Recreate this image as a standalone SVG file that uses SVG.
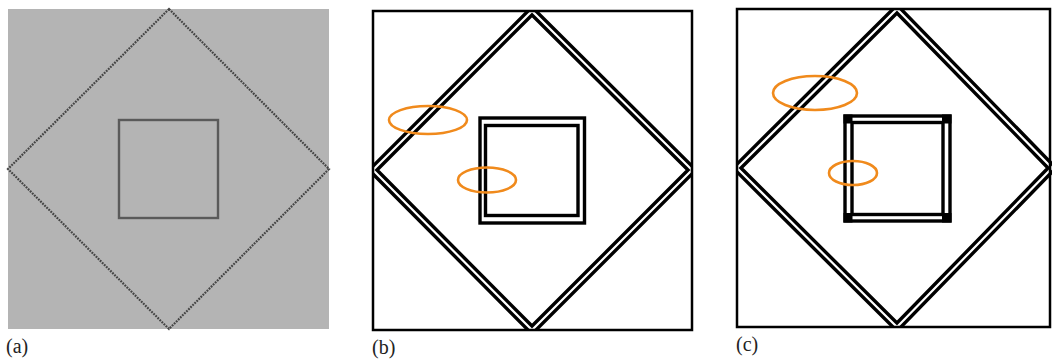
<svg xmlns="http://www.w3.org/2000/svg" width="1052" height="360" viewBox="0 0 1052 360">
<style>
.lbl{font-family:"Liberation Serif","DejaVu Serif","Times New Roman",serif;font-size:20px;fill:#222}
.frame{fill:none;stroke:#000;stroke-width:2.5}
.dblk{fill:none;stroke:#000;stroke-width:9;stroke-linejoin:miter}
.dwht{fill:none;stroke:#fff;stroke-width:2.2}
.sq{fill:none;stroke:#000;stroke-width:3.4}
.ell{fill:none;stroke:#f08a1c;stroke-width:2.6}
</style>
<defs>
<clipPath id="cb"><rect x="373" y="11" width="319" height="319"/></clipPath>
<clipPath id="cc"><rect x="737" y="9" width="315" height="318"/></clipPath>
</defs>
<rect width="1052" height="360" fill="#fff"/>
<g id="panel-a">
<rect x="8" y="9" width="321" height="320" fill="#b4b4b4"/>
<polygon points="169,9 329,169 169,329 8,169" fill="none" stroke="#444" stroke-width="2.2" stroke-dasharray="1.8,1.1"/>
<rect x="119" y="120" width="99" height="98" fill="none" stroke="#5a5a5a" stroke-width="2.4"/>
<text class="lbl" font-family="Liberation Serif, serif" x="6" y="353">(a)</text>
</g>
<g id="panel-b">
<rect x="373" y="11" width="319" height="319" fill="#fff"/>
<g clip-path="url(#cb)">
<polygon class="dblk" points="532,11 692,170 532,330 373,170"/>
<polygon class="dwht" points="532,11 692,170 532,330 373,170"/>
</g>
<rect class="frame" x="373" y="11" width="319" height="319"/>
<rect class="sq" x="480" y="118" width="104.5" height="105"/>
<rect class="sq" x="485.5" y="125.5" width="92.5" height="90"/>
<ellipse class="ell" cx="428" cy="120" rx="39" ry="14"/>
<ellipse class="ell" cx="487" cy="180" rx="29" ry="12.5"/>
<text class="lbl" font-family="Liberation Serif, serif" x="372" y="354">(b)</text>
</g>
<g id="panel-c">
<rect x="737" y="9" width="315" height="318" fill="#fff"/>
<g clip-path="url(#cc)">
<polygon class="dblk" points="897,9 1052,168 897,327 737,168"/>
<polygon class="dwht" points="897,9 1052,168 897,327 737,168"/>
</g>
<rect class="frame" x="737" y="9" width="313" height="318"/>
<rect class="sq" x="845" y="116" width="105" height="105"/>
<rect class="sq" x="852" y="122.5" width="91" height="92"/>
<rect x="843.5" y="114.5" width="9" height="9" fill="#000"/>
<rect x="942" y="114.5" width="9.5" height="9" fill="#000"/>
<rect x="843.5" y="213" width="9" height="9.5" fill="#000"/>
<rect x="942" y="213" width="9.5" height="9.5" fill="#000"/>
<ellipse class="ell" cx="815" cy="93" rx="42" ry="17"/>
<ellipse class="ell" cx="853" cy="173" rx="24" ry="12"/>
<text class="lbl" font-family="Liberation Serif, serif" x="736" y="351">(c)</text>
</g>
</svg>
